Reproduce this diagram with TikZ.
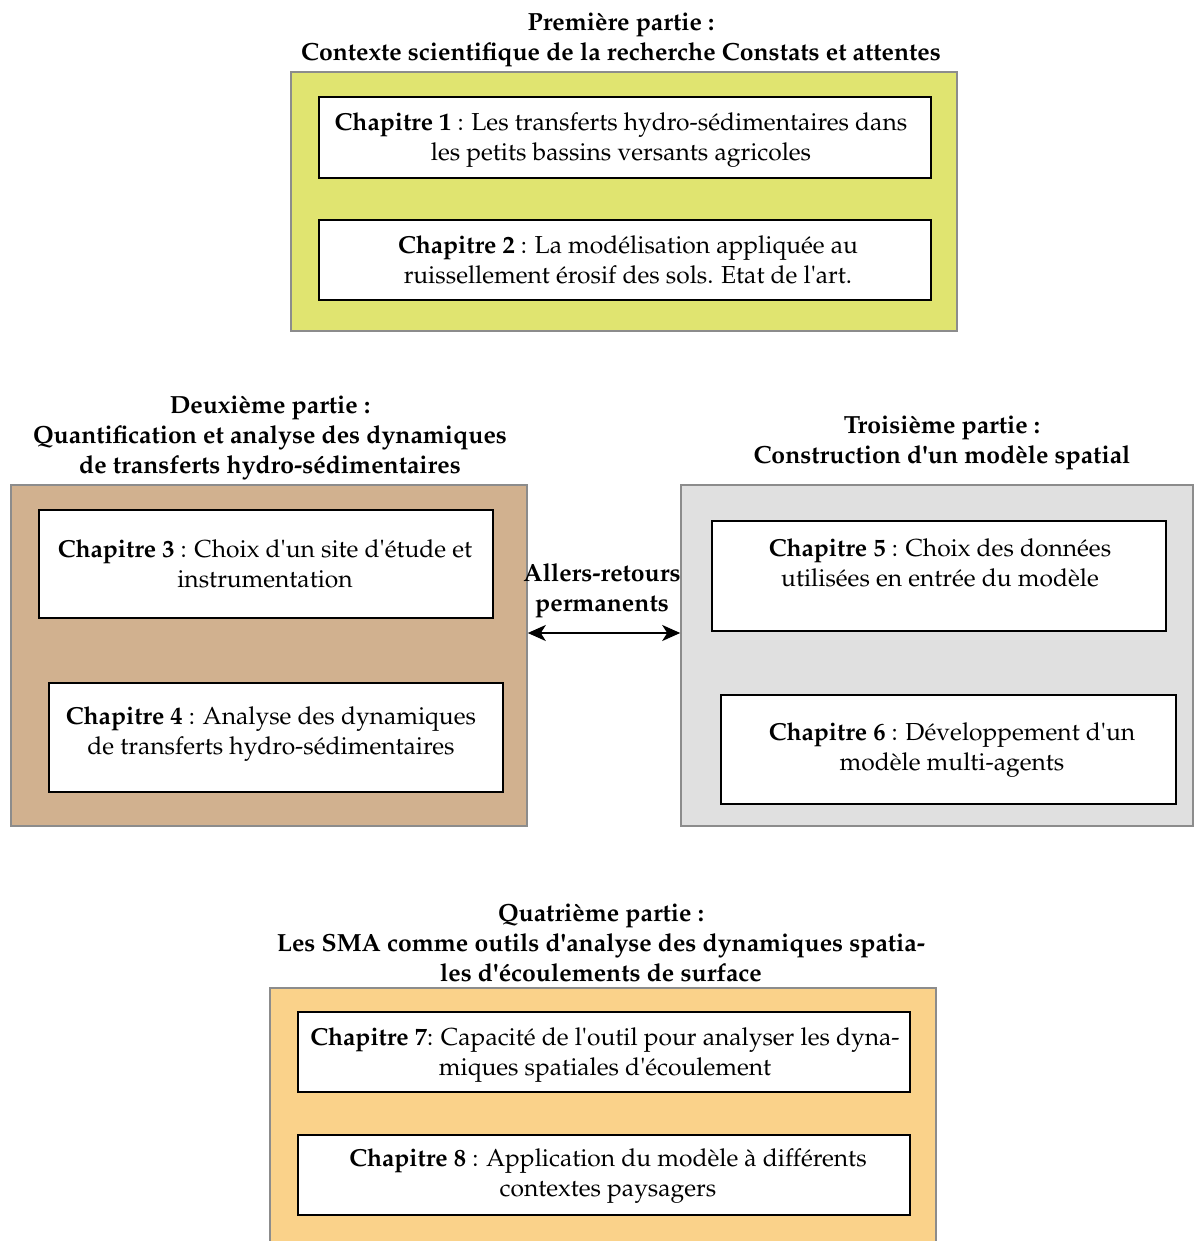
\documentclass[tikz,border=0pt]{standalone}
\usepackage[T1]{fontenc}
\usepackage{mathpazo}
\usepackage{tikz}
\usetikzlibrary{positioning, arrows.meta}

\definecolor{partone}{RGB}{224,228,112}
\definecolor{parttwo}{RGB}{209,177,143}
\definecolor{partthree}{RGB}{224,224,224}
\definecolor{partfour}{RGB}{250,210,138}
\definecolor{partline}{RGB}{140,140,140}
\newcommand{\ap}{\textquotesingle}

\begin{document}
\begin{tikzpicture} [x = 0.5pt, y = -0.5pt,
  part/.style = {draw = partline, line width = 0.8pt, inner sep = 0pt},
  chapbox/.style = {draw, line width = 1pt, fill = white, inner sep = 0pt},
  chaptext/.style = {align = center, font = \fontsize{12.3}{15}\selectfont, inner sep = 0pt, yshift = -1.5pt},
  parttitle/.style = {align = center, font = \fontsize{12.4}{15}\selectfont\bfseries, inner sep = 0pt, yshift = -1.5pt}]
\useasboundingbox (0,0) rectangle (1193,1241);

% premiere partie
\node[parttitle] (title_1) at (621,37) {Premi\`ere partie :\\Contexte scientifique de la recherche Constats et attentes};
\node[part, fill = partone, minimum width = 333pt, minimum height = 129.5pt] (part_1) at (624,201.5) {};
\node[chapbox, minimum width = 306pt, minimum height = 40.5pt] (chap_1) at (625,137.5) {};
\node[chaptext] (chap_1_text) at (621,137) {\textbf{Chapitre 1} : Les transferts hydro-s\'edimentaires dans\\les petits bassins versants agricoles};
\node[chapbox, minimum width = 306pt, minimum height = 40pt] (chap_2) at (625,260) {};
\node[chaptext] (chap_2_text) at (628,257) {\textbf{Chapitre 2} : La mod\'elisation appliqu\'ee au\\ruissellement \'erosif des sols. Etat de l\ap art.};

% deuxieme partie
\node[parttitle] (title_2) at (270,435) {Deuxi\`eme partie :\\Quantification et analyse des dynamiques\\de transferts hydro-s\'edimentaires};
\node[part, fill = parttwo, minimum width = 258pt, minimum height = 170.5pt] (part_2) at (269,655.5) {};
\node[chapbox, minimum width = 227pt, minimum height = 54pt] (chap_3) at (266,564) {};
\node[chaptext] (chap_3_text) at (265,561) {\textbf{Chapitre 3} : Choix d\ap un site d\ap\'etude et\\instrumentation};
\node[chapbox, minimum width = 227pt, minimum height = 54.5pt] (chap_4) at (276,737.5) {};
\node[chaptext] (chap_4_text) at (271,731) {\textbf{Chapitre 4} : Analyse des dynamiques\\de transferts hydro-s\'edimentaires};

% troisieme partie
\node[parttitle] (title_3) at (942,440) {Troisi\`eme partie :\\Construction d\ap un mod\`ele spatial};
\node[part, fill = partthree, minimum width = 256pt, minimum height = 170.5pt] (part_3) at (937,655.5) {};
\node[chapbox, minimum width = 227pt, minimum height = 55pt] (chap_5) at (939,576) {};
\node[chaptext] (chap_5_text) at (940,560) {\textbf{Chapitre 5} : Choix des donn\'ees\\utilis\'ees en entr\'ee du mod\`ele};
\node[chapbox, minimum width = 227.5pt, minimum height = 54.5pt] (chap_6) at (948.5,749.5) {};
\node[chaptext] (chap_6_text) at (952,747) {\textbf{Chapitre 6} : D\'eveloppement d\ap un\\mod\`ele multi-agents};

% aller-retours
\node[parttitle] (link) at (602,588) {Allers-retours\\permanents};
\path[{Stealth[length=9pt, width=8pt, inset=2.5pt]}-{Stealth[length=9pt, width=8pt, inset=2.5pt]}, line width = 1pt] (part_2.east |- 0,633) edge (part_3.west |- 0,633);

% quatrieme partie
\node[parttitle] (title_4) at (601,940) {Quatri\`eme partie :\\Les SMA comme outils d\ap analyse des dynamiques spatia-\\les d\ap\'ecoulements de surface};
\node[part, fill = partfour, minimum width = 333pt, minimum height = 136pt] (part_4) at (603,1124) {};
\node[chapbox, minimum width = 306pt, minimum height = 40pt] (chap_7) at (604,1052) {};
\node[chaptext] (chap_7_text) at (605,1052) {\textbf{Chapitre 7}: Capacit\'e de l\ap outil pour analyser les dyna-\\miques spatiales d\ap\'ecoulement};
\node[chapbox, minimum width = 306pt, minimum height = 40pt] (chap_8) at (604,1175) {};
\node[chaptext] (chap_8_text) at (608,1173) {\textbf{Chapitre 8} : Application du mod\`ele \`a diff\'erents\\contextes paysagers};

\end{tikzpicture}
\end{document}
